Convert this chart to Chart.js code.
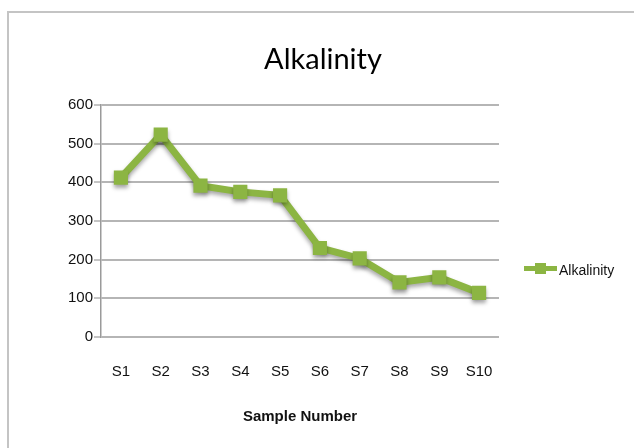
<!DOCTYPE html>
<html>
<head>
<meta charset="utf-8">
<script src="https://cdn.jsdelivr.net/npm/chart.js@4/dist/chart.umd.min.js"></script>
<style>
  html, body { margin: 0; padding: 0; background: #fff; }
  #wrap { position: relative; width: 634px; height: 448px; overflow: hidden; }
  #frame { position: absolute; left: 7px; top: 11px; width: 700px; height: 500px;
           border-left: 2px solid #c4c4c4; border-top: 2px solid #c4c4c4; box-sizing: border-box; }
  canvas { position: absolute; left: 0; top: 0; }
</style>
</head>
<body>
<div id="wrap">
  <div id="frame"></div>
  <canvas id="c" width="634" height="448"></canvas>
</div>
<script>
// Alkalinity measured at each sample point
const categories = ['S1', 'S2', 'S3', 'S4', 'S5', 'S6', 'S7', 'S8', 'S9', 'S10'];
const alkalinity = [412, 523, 391, 375, 366, 230, 203, 141, 154, 114];
const yTicks = [0, 100, 200, 300, 400, 500, 600];

const LABEL_FONT = "'Liberation Sans', Arial, sans-serif";
const GREEN = '#8cb543';

// soft drop shadow under the series line and markers
const shadowPlugin = {
  id: 'seriesShadow',
  beforeDatasetDraw(chart) {
    const ctx = chart.ctx;
    ctx.save();
    ctx.shadowColor = 'rgba(0,0,0,0.35)';
    ctx.shadowBlur = 4;
    ctx.shadowOffsetY = 3;
  },
  afterDatasetDraw(chart) {
    chart.ctx.restore();
  }
};

// legend column on the right, registered as a layout box so the title
// still spans the full width
const sideLegend = {
  id: 'sideLegend',
  beforeInit(chart) {
    const box = {
      position: 'right',
      weight: 0,
      fullSize: false,
      options: {},
      isHorizontal() { return false; },
      update(maxWidth, maxHeight) {
        this.width = 135;
        this.height = maxHeight;
        return { width: this.width, height: this.height };
      },
      draw() {
        const ctx = chart.ctx;
        const ds = chart.data.datasets[0];
        const x0 = this.left + 25;
        const y = 268.5;
        ctx.save();
        ctx.strokeStyle = ds.borderColor;
        ctx.lineWidth = 5;
        ctx.beginPath();
        ctx.moveTo(x0, y);
        ctx.lineTo(x0 + 33, y);
        ctx.stroke();
        ctx.fillStyle = ds.backgroundColor;
        ctx.fillRect(x0 + 11, y - 5.5, 11, 11);
        ctx.fillStyle = '#111';
        ctx.font = '14px ' + LABEL_FONT;
        ctx.textBaseline = 'alphabetic';
        ctx.textAlign = 'left';
        ctx.fillText(ds.label, x0 + 35, y + 6);
        ctx.restore();
      }
    };
    Chart.layouts.addBox(chart, box);
  }
};

new Chart(document.getElementById('c'), {
  type: 'line',
  data: {
    labels: categories,
    datasets: [{
      label: 'Alkalinity',
      data: alkalinity,
      borderColor: GREEN,
      backgroundColor: GREEN,
      borderWidth: 7,
      pointStyle: 'rect',
      pointRadius: 10,
      pointBorderWidth: 0,
      pointBackgroundColor: GREEN,
      tension: 0
    }]
  },
  options: {
    responsive: false,
    animation: false,
    devicePixelRatio: 1,
    layout: { padding: { left: 12, right: 0, top: 0, bottom: 0 } },
    plugins: {
      legend: { display: false },
      tooltip: { enabled: false },
      title: {
        display: true,
        text: 'Alkalinity',
        color: '#000',
        font: { family: "Lato, 'Liberation Sans', sans-serif", size: 29, weight: 'normal' },
        padding: { top: 42, bottom: 28 }
      }
    },
    scales: {
      x: {
        type: 'category',
        offset: true,
        grid: { display: false, drawTicks: false },
        border: { display: false },
        ticks: { color: '#111', font: { family: LABEL_FONT, size: 15 }, padding: 26, maxRotation: 0 },
        title: {
          display: true,
          text: 'Sample Number',
          color: '#111',
          font: { family: LABEL_FONT, size: 15, weight: 'bold' },
          padding: { top: 0, bottom: 22 }
        },
        afterFit(scale) { scale.height = 111; }
      },
      y: {
        min: 0,
        max: 600,
        afterBuildTicks(scale) { scale.ticks = yTicks.map(v => ({ value: v })); },
        grid: { color: '#b5b5b5', lineWidth: 2, tickLength: 7, tickColor: '#8a8a8a', tickWidth: 1 },
        border: { display: true, color: '#9a9a9a', width: 1.5 },
        ticks: { color: '#111', font: { family: LABEL_FONT, size: 15 }, padding: 1 },
        afterFit(scale) { scale.width = 89; }
      }
    }
  },
  plugins: [shadowPlugin, sideLegend]
});
</script>
</body>
</html>
